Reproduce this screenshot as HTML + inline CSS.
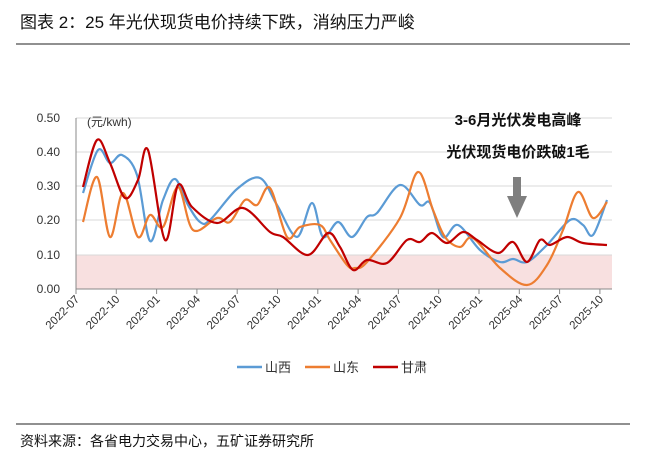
<!DOCTYPE html>
<html><head><meta charset="utf-8"><style>
body{margin:0;background:#fff;width:645px;height:470px;overflow:hidden;font-family:"Liberation Sans","Noto Sans CJK SC",sans-serif}
</style></head><body>
<svg id="s" width="645" height="470" xmlns="http://www.w3.org/2000/svg" font-family="Liberation Sans, Noto Sans CJK SC, sans-serif">
<text x="20" y="28" font-size="17" fill="#111">图表 2：25 年光伏现货电价持续下跌，消纳压力严峻</text>
<line x1="16" y1="44" x2="630" y2="44" stroke="#222" stroke-width="1"/>
<rect x="76" y="255" width="536" height="34" fill="#f8e0e0"/>
<g stroke="#d9d9d9" stroke-width="1">
<line x1="76" y1="118" x2="612" y2="118"/><line x1="76" y1="152" x2="612" y2="152"/>
<line x1="76" y1="186" x2="612" y2="186"/><line x1="76" y1="220" x2="612" y2="220"/>
<line x1="76" y1="255" x2="612" y2="255"/>
</g>
<line x1="76" y1="118" x2="76" y2="289" stroke="#888"/>
<line x1="76" y1="289" x2="612" y2="289" stroke="#888"/>
<g id="ticks" stroke="#888"></g>
<g font-size="12" fill="#333" text-anchor="end">
<text x="60" y="122">0.50</text><text x="60" y="156">0.40</text><text x="60" y="190">0.30</text>
<text x="60" y="224">0.20</text><text x="60" y="259">0.10</text><text x="60" y="293">0.00</text>
</g>
<text x="87" y="126" font-size="12" fill="#333">(元/kwh)</text>
<g id="xl" font-size="11.5" fill="#333" text-anchor="end"></g>
<g id="lines" fill="none" stroke-width="2.2"></g>
<text x="518" y="125" font-size="15" font-weight="bold" text-anchor="middle" fill="#111">3-6月光伏发电高峰</text>
<text x="518" y="157" font-size="15" font-weight="bold" text-anchor="middle" fill="#111">光伏现货电价跌破1毛</text>
<rect x="513" y="177" width="8" height="19" fill="#7f7f7f"/>
<polygon points="507,196 527,196 517,218" fill="#7f7f7f"/>
<line x1="237" y1="367" x2="262" y2="367" stroke="#5b9bd5" stroke-width="2.5"/>
<text x="265" y="372" font-size="13" fill="#333">山西</text>
<line x1="305" y1="367" x2="330" y2="367" stroke="#ed7d31" stroke-width="2.5"/>
<text x="333" y="372" font-size="13" fill="#333">山东</text>
<line x1="373" y1="367" x2="398" y2="367" stroke="#c00000" stroke-width="2.5"/>
<text x="401" y="372" font-size="13" fill="#333">甘肃</text>
<line x1="16" y1="424" x2="630" y2="424" stroke="#222" stroke-width="1"/>
<text x="20" y="446" font-size="14" fill="#111">资料来源：各省电力交易中心，五矿证券研究所</text>
</svg>
<script>
var NS="http://www.w3.org/2000/svg";
function cr(p){var d="M"+p[0][0]+","+p[0][1];for(var i=0;i<p.length-1;i++){var a=p[i-1]||p[i],b=p[i],c=p[i+1],e=p[i+2]||c;
d+=" C"+(b[0]+(c[0]-a[0])/6).toFixed(1)+","+(b[1]+(c[1]-a[1])/6).toFixed(1)+" "+(c[0]-(e[0]-b[0])/6).toFixed(1)+","+(c[1]-(e[1]-b[1])/6).toFixed(1)+" "+c[0]+","+c[1];}return d;}
var blue=[[83,193],[98,150],[110,163],[122,155],[137,175],[150,241],[163,200],[175,179],[188,205],[200,222],[210,220],[237,189],[260,178],[277,205],[297,237],[312,203],[323,237],[338,222],[352,237],[367,217],[377,213],[400,185],[420,205],[430,203],[443,237],[458,225],[480,250],[500,262],[513,259],[527,262],[547,245],[570,220],[583,225],[593,235],[607,200]];
var orange=[[83,222],[97,177],[110,237],[123,193],[138,237],[150,215],[163,227],[178,187],[193,230],[217,218],[230,222],[245,200],[257,205],[270,188],[287,237],[300,227],[320,225],[330,240],[347,265],[355,268],[367,262],[400,218],[418,172],[433,210],[445,237],[460,247],[473,238],[500,268],[527,285],[547,265],[563,230],[578,192],[593,218],[607,202]];
var red=[[83,187],[97,140],[110,163],[125,198],[138,180],[148,150],[165,240],[178,185],[192,207],[217,223],[243,208],[270,232],[283,237],[308,255],[328,233],[340,247],[353,270],[367,260],[387,263],[407,240],[420,242],[432,233],[447,243],[463,232],[477,240],[498,253],[513,242],[527,262],[540,240],[550,245],[567,237],[583,243],[607,245]];
var L=document.getElementById("lines");
[[blue,"#5b9bd5"],[orange,"#ed7d31"],[red,"#c00000"]].forEach(function(s){var p=document.createElementNS(NS,"path");p.setAttribute("d",cr(s[0]));p.setAttribute("stroke",s[1]);L.appendChild(p);});
var labs=["2022-07","2022-10","2023-01","2023-04","2023-07","2023-10","2024-01","2024-04","2024-07","2024-10","2025-01","2025-04","2025-07","2025-10"];
var T=document.getElementById("ticks"),X=document.getElementById("xl");
labs.forEach(function(l,i){var x=76+i*40.3;var t=document.createElementNS(NS,"line");t.setAttribute("x1",x);t.setAttribute("x2",x);t.setAttribute("y1",289);t.setAttribute("y2",294);T.appendChild(t);
var tx=document.createElementNS(NS,"text");tx.setAttribute("x",x+4);tx.setAttribute("y",300);tx.setAttribute("transform","rotate(-45 "+(x+4)+" 300)");tx.textContent=l;X.appendChild(tx);});
</script>
</body></html>
